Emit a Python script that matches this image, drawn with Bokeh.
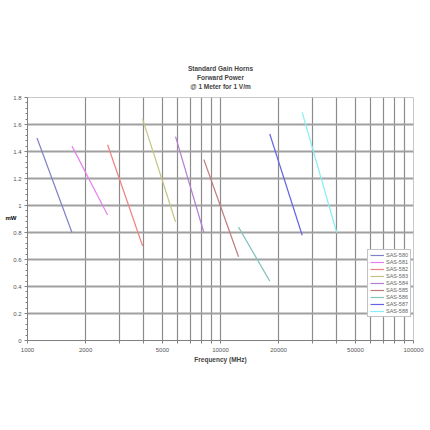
from bokeh.plotting import figure
from bokeh.models import Range1d, FixedTicker, CustomJSTickFormatter, LinearAxis, Title
from bokeh.embed import file_html
from bokeh.resources import INLINE

# ---- data ----
series = ["SAS-580", "SAS-581", "SAS-582", "SAS-583", "SAS-584",
          "SAS-585", "SAS-586", "SAS-587", "SAS-588"]
f_start = [1120, 1700, 2600, 3950, 5850, 8200, 12400, 18000, 26500]   # MHz
f_end = [1700, 2600, 3950, 5850, 8200, 12400, 18000, 26500, 40000]    # MHz
p_start = [1.50, 1.44, 1.45, 1.64, 1.51, 1.34, 0.84, 1.53, 1.69]      # mW
p_end = [0.80, 0.93, 0.70, 0.88, 0.80, 0.62, 0.44, 0.78, 0.80]        # mW
colors = ["#8080C8", "#E67FEE", "#F08080", "#C4C482", "#B47CD2",
          "#C07878", "#84C4BC", "#6464E6", "#86EEF2"]

x_ticks = [1000, 2000, 3000, 4000, 5000, 6000, 7000, 8000, 9000,
           10000, 20000, 30000, 40000, 50000, 60000, 70000, 80000, 90000, 100000]
x_labels = [1000, 2000, 5000, 10000, 20000, 50000, 100000]
y_ticks = [0, 0.2, 0.4, 0.6, 0.8, 1.0, 1.2, 1.4, 1.6, 1.8]
title_lines = ["Standard Gain Horns", "Forward Power", "@ 1 Meter for 1 V/m"]
y_unit = "mW"
y_unit_pos = [0.905]

FONT = "Liberation Sans"

p = figure(width=430, height=410, x_axis_type="log",
           x_range=Range1d(1000, 100000), y_range=Range1d(0, 1.8),
           output_backend="svg", toolbar_location=None,
           min_border_left=27, min_border_right=17,
           min_border_top=97, min_border_bottom=70)

def style_title(tt, size="6.5px"):
    tt.align = "center"
    tt.text_font = FONT
    tt.text_font_size = size
    tt.text_font_style = "bold"
    tt.standoff = 0
    tt.offset = 0

# title: main title is outermost; added titles stack outward from the frame
p.title.text = title_lines[0]
style_title(p.title)
spacer = Title(text=" ")
style_title(spacer, "5px")
p.add_layout(spacer, "above")
for t in [title_lines[2], title_lines[1]]:
    tt = Title(text=t)
    style_title(tt)
    p.add_layout(tt, "above")

p.outline_line_color = "#c8c8c8"
p.outline_line_width = 1
p.background_fill_color = "white"
p.border_fill_color = "white"

for name, fs, fe, ps, pe, c in zip(series, f_start, f_end, p_start, p_end, colors):
    p.line([fs, fe], [ps, pe], line_color=c, line_width=1.2, legend_label=name)

# grids
p.xgrid.ticker = FixedTicker(ticks=x_ticks[1:-1])
p.ygrid.ticker = FixedTicker(ticks=y_ticks[1:-1])
p.xgrid.grid_line_color = "#8c8c8c"
p.ygrid.grid_line_color = "#a0a0a0"
p.xgrid.grid_line_width = 1.2
p.ygrid.grid_line_width = 1.8

# x axis
xa = p.xaxis[0]
xa.ticker = FixedTicker(ticks=x_ticks, minor_ticks=[])
xa.formatter = CustomJSTickFormatter(
    args=dict(labels=x_labels),
    code="const t = Math.round(tick); return labels.includes(t) ? String(t) : '';")
xa.axis_label = "Frequency (MHz)"
xa.axis_label_text_font = FONT
xa.axis_label_text_font_size = "6.5px"
xa.axis_label_text_font_style = "bold"
xa.axis_label_standoff = 1
xa.major_label_text_font = FONT
xa.major_label_text_font_size = "6px"
xa.major_label_text_color = "#555555"
xa.major_label_standoff = 4
xa.major_tick_out = 3
xa.major_tick_in = 0
xa.axis_line_color = "#808080"
xa.major_tick_line_color = "#808080"

# y axis
minor = [round(i * 0.04, 2) for i in range(46) if i % 5 != 0]
ya = p.yaxis[0]
ya.ticker = FixedTicker(ticks=y_ticks, minor_ticks=minor)
ya.formatter = CustomJSTickFormatter(code="return String(Math.round(tick * 10) / 10);")
ya.major_label_text_font = FONT
ya.major_label_text_font_size = "6px"
ya.major_label_text_color = "#555555"
ya.major_label_standoff = 3
ya.major_tick_out = 3
ya.major_tick_in = 0
ya.minor_tick_out = 2
ya.minor_tick_in = 0
ya.axis_line_color = "#808080"
ya.major_tick_line_color = "#808080"
ya.minor_tick_line_color = "#808080"

# unit label "mW" as an outer, line-less axis
ua = LinearAxis(ticker=FixedTicker(ticks=y_unit_pos, minor_ticks=[]),
                formatter=CustomJSTickFormatter(args=dict(u=y_unit), code="return u;"))
ua.axis_line_color = None
ua.major_tick_line_color = None
ua.minor_tick_line_color = None
ua.major_tick_out = 0
ua.major_tick_in = 0
ua.major_label_standoff = -6
ua.major_label_text_font = FONT
ua.major_label_text_font_size = "6px"
ua.major_label_text_font_style = "bold"
ua.major_label_text_color = "#000000"
p.add_layout(ua, "left")

# legend
lg = p.legend[0]
lg.location = (340, 23)
lg.label_text_font = FONT
lg.label_text_font_size = "5.5px"
lg.label_text_color = "#666666"
lg.label_height = 6
lg.glyph_height = 6
lg.glyph_width = 14
lg.label_standoff = 2
lg.spacing = 1
lg.padding = 2
lg.margin = 0
lg.border_line_color = "#888888"
lg.border_line_width = 1
lg.background_fill_alpha = 1

open("out.html", "w").write(file_html(p, INLINE))
